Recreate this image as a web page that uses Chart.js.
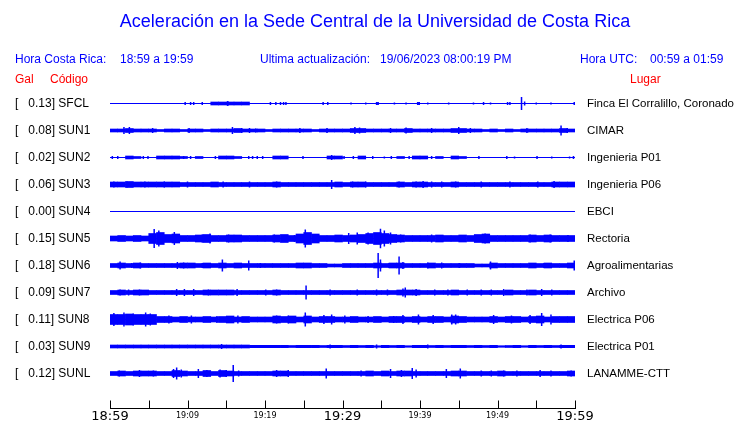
<!DOCTYPE html>
<html>
<head>
<meta charset="utf-8">
<title>Aceleración - Sede Central UCR</title>
<script src="https://cdn.jsdelivr.net/npm/chart.js@4.4.1/dist/chart.umd.min.js"></script>
<style>
  body { margin: 0; background: #fff; }
  #wrap { width: 740px; height: 423px; }
</style>
</head>
<body>
<div id="wrap"><canvas id="sismoChart" width="740" height="423"></canvas></div>
<script>
// station rows (top to bottom)
const rowCodes = ['SFCL', 'SUN1', 'SUN2', 'SUN3', 'SUN4', 'SUN5', 'SUN6', 'SUN7', 'SUN8', 'SUN9', 'SUNL'];
const rowGals = ['0.13', '0.08', '0.02', '0.06', '0.00', '0.15', '0.18', '0.09', '0.11', '0.03', '0.12'];
const rowPlaces = ['Finca El Corralillo, Coronado', 'CIMAR', 'Ingenieria P01', 'Ingenieria P06', 'EBCI',
    'Rectoria', 'Agroalimentarias', 'Archivo', 'Electrica P06', 'Electrica P01', 'LANAMME-CTT'];

// time axis, one tick every 5 minutes
const timeLabels = ['18:59', '', '19:09', '', '19:19', '', '19:29', '', '19:39', '', '19:49', '', '19:59'];
const bigLabels = ['18:59', '19:29', '19:59'];

const titleText = 'Aceleración en la Sede Central de la Universidad de Costa Rica';
const horaLocal = '18:59 a 19:59';
const ultimaAct = '19/06/2023 08:00:19 PM';
const horaUtc = '00:59 a 01:59';

// trace envelope: half amplitude per minute (0..59)
const sfclBand = [
    0, 0, 0, 0, 0, 0, 0, 0, 0, 0,
    0, 0, 0, 1.5, 1.5, 1.5, 1.5, 1.5, 0, 0,
    0, 0, 0, 0, 0, 0, 0, 0, 0, 0,
    0, 0, 0, 0, 0, 0, 0, 0, 0, 0,
    0, 0, 0, 0, 0, 0, 0, 0, 0, 0,
    0, 0, 0, 0, 0, 0, 0, 0, 0, 0];
const sun1Band = [
    1.5, 1.5, 2, 1.5, 1.5, 1.5, 1, 1.5, 1.5, 1,
    1.5, 1.5, 1, 1.5, 1.5, 1.5, 2, 1.5, 1.5, 1.5,
    1, 1.5, 1.5, 1.5, 1.5, 1.5, 1, 1.5, 1.5, 1.5,
    1.5, 2, 2, 1.5, 1.5, 1.5, 1.5, 1.5, 2, 1.5,
    1.5, 1.5, 1.5, 1.5, 2, 2, 1.5, 1.5, 1, 1.5,
    1, 1.5, 1, 1.5, 1.5, 1.5, 1.5, 1.5, 2, 1.5];
const sun2Band = [
    0, 0, 1.5, 1, 0, 0, 1.5, 1.5, 1.5, 1,
    0, 1, 0, 0, 1.5, 1.5, 1, 0, 0, 0,
    0, 1.5, 1.5, 0, 0, 0, 0, 0, 1.5, 1.5,
    0, 0, 1.5, 0, 0, 0, 0, 1, 0, 1.5,
    1.5, 0, 1, 0, 1.5, 1, 0, 0, 0, 0,
    0, 0, 0, 0, 0, 0, 0, 0, 0, 0];
const sun3Band = [
    2.5, 2.5, 3, 2.5, 2.5, 2.5, 2.5, 2.5, 2.5, 2,
    2, 2, 2, 2.5, 2, 2, 2, 2, 2, 2,
    2, 2.5, 2, 2, 2, 2, 2, 2, 2, 2.5,
    2, 2.5, 2.5, 2, 2, 2, 2, 2.5, 2, 2.5,
    2.5, 2, 2, 2, 2.5, 2, 2, 2, 2, 2,
    2, 2, 2, 2, 2, 2, 2, 2.5, 2.5, 2.5];
const sun4Band = [
    0, 0, 0, 0, 0, 0, 0, 0, 0, 0,
    0, 0, 0, 0, 0, 0, 0, 0, 0, 0,
    0, 0, 0, 0, 0, 0, 0, 0, 0, 0,
    0, 0, 0, 0, 0, 0, 0, 0, 0, 0,
    0, 0, 0, 0, 0, 0, 0, 0, 0, 0,
    0, 0, 0, 0, 0, 0, 0, 0, 0, 0];
const sun5Band = [
    2.5, 3, 2.5, 3, 2.5, 5, 6, 4, 4.5, 3,
    3, 3.5, 4, 3, 3, 3.5, 3.5, 3, 3, 3,
    3, 3.5, 4, 3, 4.5, 6, 4.5, 3, 3, 3.5,
    3, 3.5, 4, 5, 6, 5, 4, 3.5, 3, 3,
    3, 3, 3.5, 3, 3, 3.5, 3, 4, 4.5, 3,
    3, 3, 3, 3, 3.5, 3, 3.5, 3, 3, 3];
const sun6Band = [
    2, 2.5, 2, 2.5, 2, 2, 2, 2, 2, 2.5,
    2.5, 2, 2.5, 2, 2.5, 2, 2.5, 2, 2, 2,
    2, 2, 2, 2, 2.5, 2.5, 2, 2, 1.5, 1.5,
    2, 2, 2, 2, 2.5, 2, 2.5, 2.5, 2, 2,
    2, 2.5, 2, 2, 2, 2, 2, 1.5, 1.5, 2.5,
    2, 2, 2, 2, 2.5, 2, 2.5, 2, 2, 2.5];
const sun7Band = [
    2, 2.5, 2, 2.5, 2.5, 2, 2, 2, 2, 2,
    2, 2, 2.5, 2.5, 2.5, 2.5, 2, 2, 2, 2,
    2, 2.5, 2, 2, 2, 2, 2, 2, 2, 2,
    2, 2, 2, 2, 2, 2, 2, 2.5, 2.5, 2.5,
    2, 2, 2, 2, 2.5, 2, 2, 2, 2, 2,
    2, 2.5, 2, 2, 2.5, 2, 2, 2, 2, 2];
const sun8Band = [
    5, 5, 5.5, 5, 5, 5, 3, 3, 2.5, 3,
    2.5, 2.5, 3, 2.5, 3, 3.5, 2.5, 3, 2.5, 2.5,
    2.5, 3.5, 3, 3.5, 2.5, 3.5, 2.5, 3, 3, 2.5,
    2.5, 3, 2.5, 2.5, 3, 2.5, 3, 3, 2.5, 3,
    2.5, 3, 3, 2.5, 3.5, 3, 2.5, 2.5, 2.5, 3,
    2.5, 3, 3, 2.5, 3, 3.5, 2.5, 3, 3, 3];
const sun9Band = [
    1.5, 1.5, 1.5, 1.5, 1.5, 1.5, 1.5, 1.5, 1.5, 1.5,
    1.5, 1.5, 1.5, 1.5, 1.5, 1.5, 1.5, 1.5, 1.2, 1.2,
    1.2, 1.2, 1.2, 1, 1.2, 1.2, 1.2, 1, 1.2, 1.2,
    1, 1.2, 1, 1.2, 0.8, 1.2, 1, 1.2, 0.8, 1.2,
    1.2, 1, 1.2, 1, 1.2, 1.2, 1, 1.2, 1, 1.2,
    0.8, 1, 1.2, 0.8, 1.2, 1, 1.2, 1, 1.2, 1.2];
const sunlBand = [
    2, 2.5, 2, 2.5, 2.5, 2.5, 2, 2, 3, 2.5,
    2, 2, 3, 2, 3, 2.5, 2, 2, 2, 2,
    2, 2.5, 2.5, 2, 2, 2, 2, 2, 2, 2,
    2, 2, 2, 2.5, 2, 2.5, 2, 2.5, 2.5, 2,
    2, 2, 2, 2, 2.5, 2.5, 2, 2, 2, 2,
    2.5, 2, 2, 2, 2, 2, 2, 2, 2, 2.5];

// single peaks: [minute, half amplitude]
const sfclSpikes = [[9.7, 1.5], [10.4, 1.5], [10.8, 1.5], [11.9, 1.5], [15.2, 2.5], [20.7, 1.5], [21.4, 1.5],
    [22.0, 1.5], [22.4, 1.5], [22.7, 1.5], [27.5, 1.5], [28.1, 1.5], [31.1, 1], [33.0, 1], [34.4, 1.5],
    [34.6, 1.5], [36.7, 1], [38.2, 1], [39.7, 1.5], [39.9, 1.5], [41.0, 1], [43.7, 1], [46.9, 1], [48.2, 1.5],
    [49.1, 1], [51.3, 1.5], [51.6, 1.5], [53.1, 6.5], [53.5, 2], [55.0, 1], [56.9, 1], [59.9, 1.5]];
const sun1Spikes = [[1.8, 3.5], [2.5, 3.5], [5.5, 2.5], [10.2, 2.5], [15.8, 3.5], [17.0, 2.5], [18.0, 2.5],
    [18.8, 2], [24.5, 2.5], [28.0, 2.5], [31.6, 3.5], [32.2, 3], [36.2, 2.5], [38.2, 3], [41.5, 2.5],
    [45.0, 3.5], [46.5, 2.5], [53.8, 2.5], [58.2, 5], [59.0, 2.5]];
const sun2Spikes = [[0.3, 1.5], [1.0, 1.5], [4.3, 1.5], [4.9, 1.5], [9.5, 1.5], [10.4, 1.5], [13.6, 1.5],
    [17.9, 1.5], [18.4, 1.5], [19.0, 1.5], [19.7, 1.5], [24.9, 1.5], [28.6, 2.5], [30.2, 1.5], [31.4, 1.5],
    [33.9, 1.5], [35.4, 1], [36.3, 1.5], [38.6, 1.5], [41.5, 1.5], [47.6, 1.5], [51.2, 1.5], [52.2, 1],
    [55.1, 1.5], [57.0, 1], [59.3, 1], [59.8, 1.5]];
const sun3Spikes = [[0.5, 3], [2.2, 3], [4.5, 3], [7.0, 3], [10.0, 3], [14.6, 3], [18.0, 3], [21.5, 3],
    [28.6, 4.5], [31.3, 3], [33.0, 3], [37.3, 3], [39.5, 3], [40.4, 3.5], [41.5, 3], [42.8, 3], [44.6, 3],
    [47.9, 3], [51.6, 3], [55.2, 3], [57.3, 3.5]];
const sun4Spikes = [];
const sun5Spikes = [[5.7, 9.5], [6.3, 8], [8.3, 6.5], [11.9, 4], [12.9, 5], [15.3, 4], [21.2, 4], [23.8, 3.5],
    [25.2, 9], [26.3, 4.5], [30.8, 5.5], [31.9, 6], [33.3, 6], [34.9, 9.7], [35.4, 8], [36.2, 6], [37.5, 4],
    [41.5, 4], [42.9, 3.5], [45.8, 3.5], [48.4, 5], [54.2, 4], [56.8, 4], [59.1, 3.5]];
const sun6Spikes = [[1.3, 4], [2.8, 2.5], [3.9, 3], [8.7, 3.5], [9.5, 3], [11.9, 2.5], [14.5, 6], [16.4, 2.5],
    [17.9, 5], [19.4, 2.5], [34.6, 12.5], [34.9, 6], [36.0, 2.5], [37.3, 9], [37.8, 3.5], [41.0, 3], [42.8, 3],
    [45.1, 2.5], [49.1, 4], [54.4, 2.5], [56.0, 2.5], [59.9, 5]];
const sun7Spikes = [[1.3, 3], [2.4, 3], [3.8, 3], [8.6, 3.5], [9.6, 3.5], [10.8, 3.5], [12.7, 3], [16.4, 3.5],
    [20.1, 3], [21.5, 3], [25.3, 7], [28.4, 3], [31.9, 3], [34.4, 3], [35.8, 3], [37.8, 4], [38.1, 5],
    [39.5, 3.5], [41.9, 3], [43.6, 3], [46.1, 3], [47.9, 3], [49.2, 3], [50.8, 3.5], [53.8, 3], [55.7, 3.5],
    [57.0, 3]];
const sun8Spikes = [[0.5, 6.5], [1.8, 7], [3.0, 6], [4.6, 7], [5.2, 6], [7.6, 4], [10.5, 4], [13.8, 3.5],
    [16.5, 4], [21.5, 4], [23.0, 4], [25.2, 7], [27.6, 4.5], [28.6, 5], [30.3, 4], [33.3, 3.5], [36.6, 3.5],
    [37.8, 4.5], [39.8, 5], [41.7, 4.5], [44.1, 5], [44.6, 5], [49.5, 4.5], [51.8, 4], [54.2, 4.5],
    [55.7, 6.5], [56.9, 5]];
const sun9Spikes = [[14.4, 2.5], [28.4, 2], [34.4, 2], [41.0, 2], [58.2, 2]];
const sunlSpikes = [[1.2, 3], [3.8, 3.5], [5.6, 3], [8.2, 4.5], [8.6, 6], [9.2, 4], [11.4, 4.5], [12.5, 3.5],
    [14.2, 4], [15.0, 3.5], [15.9, 8.5], [16.6, 3], [21.5, 3.5], [23.0, 3.5], [27.9, 5], [32.4, 3], [36.2, 4.5],
    [37.6, 3.5], [39.0, 5.5], [39.5, 4], [43.4, 4.5], [45.2, 5], [47.9, 3], [49.2, 3], [50.8, 3], [52.5, 3],
    [55.5, 3.5], [56.9, 3], [59.5, 3]];

const traceBands = [sfclBand, sun1Band, sun2Band, sun3Band, sun4Band, sun5Band, sun6Band, sun7Band, sun8Band, sun9Band, sunlBand];
const traceSpikes = [sfclSpikes, sun1Spikes, sun2Spikes, sun3Spikes, sun4Spikes, sun5Spikes, sun6Spikes, sun7Spikes, sun8Spikes, sun9Spikes, sunlSpikes];

const BLUE = '#0000ff';
const RED = '#ff0000';
const TRACE_GAP = 27;

Chart.defaults.font.family = "'Liberation Sans', Arial, sans-serif";

function buildDatasets() {
    const sets = [];
    traceBands.forEach(function(band, i) {
        const off = i * TRACE_GAP;
        const bars = [];
        band.forEach(function(a, m) {
            if (a > 0) bars.push({ x: m + 0.5, y: [off - a, off + a] });
        });
        sets.push({
            type: 'bar', data: bars, backgroundColor: BLUE, borderWidth: 0,
            grouped: false, barPercentage: 1, categoryPercentage: 1
        });
        sets.push({
            type: 'line', data: [{ x: 0, y: off }, { x: 60, y: off }],
            borderColor: BLUE, borderWidth: 1, pointRadius: 0
        });
        const pts = [];
        traceSpikes[i].forEach(function(s) {
            pts.push({ x: s[0], y: off - s[1] }, { x: s[0], y: off + s[1] }, { x: s[0], y: null });
        });
        sets.push({
            type: 'line', data: pts, borderColor: BLUE, borderWidth: 1.5,
            pointRadius: 0, spanGaps: false
        });
    });
    return sets;
}

// header texts
const headerPlugin = {
    id: 'header',
    afterDraw(chart) {
        const ctx = chart.ctx;
        ctx.save();
        ctx.textBaseline = 'middle';
        ctx.fillStyle = BLUE;
        ctx.textAlign = 'center';
        ctx.font = "18px 'Liberation Sans', Arial, sans-serif";
        ctx.fillText(titleText, 375, 22);
        ctx.textAlign = 'left';
        ctx.font = "12px 'Liberation Sans', Arial, sans-serif";
        ctx.fillText('Hora Costa Rica:', 15, 60);
        ctx.fillText(horaLocal, 120, 60);
        ctx.fillText('Ultima actualización:', 260, 60);
        ctx.fillText(ultimaAct, 380, 60);
        ctx.fillText('Hora UTC:', 580, 60);
        ctx.fillText(horaUtc, 650, 60);
        ctx.fillStyle = RED;
        ctx.fillText('Gal', 15, 80);
        ctx.fillText('Código', 50, 80);
        ctx.fillText('Lugar', 630, 80);
        ctx.restore();
    }
};

// time axis line with upward tick marks
const timeAxisPlugin = {
    id: 'timeAxis',
    afterDraw(chart) {
        const ctx = chart.ctx;
        const xs = chart.scales.x;
        const yy = Math.round(chart.chartArea.bottom) - 0.5;
        ctx.save();
        ctx.strokeStyle = '#000';
        ctx.lineWidth = 1;
        ctx.beginPath();
        ctx.moveTo(Math.round(xs.getPixelForValue(0)), yy);
        ctx.lineTo(Math.round(xs.getPixelForValue(60)) + 1, yy);
        xs.ticks.forEach(function(t) {
            const px = Math.round(xs.getPixelForValue(t.value)) + 0.5;
            ctx.moveTo(px, yy);
            ctx.lineTo(px, yy - 8);
        });
        ctx.stroke();
        ctx.restore();
    }
};

function tickFont(ctx) {
    const lbl = timeLabels[ctx.index];
    if (bigLabels.indexOf(lbl) >= 0) {
        return { family: "'DejaVu Sans', sans-serif", size: 13, lineHeight: 1.1 };
    }
    return { family: "'DejaVu Sans', sans-serif", size: 8, lineHeight: 1.7 };
}

function rowTicks(scale) {
    scale.ticks = rowCodes.map(function(c, i) { return { value: i * TRACE_GAP }; });
}

const chart = new Chart(document.getElementById('sismoChart'), {
    type: 'bar',
    data: { datasets: buildDatasets() },
    options: {
        responsive: false,
        animation: false,
        events: [],
        layout: { padding: { left: 15, top: 90, right: 0, bottom: 0 } },
        plugins: { legend: { display: false }, tooltip: { enabled: false } },
        scales: {
            x: {
                type: 'linear', min: 0, max: 60, offset: false,
                grid: { display: false }, border: { display: false },
                ticks: {
                    stepSize: 5, autoSkip: false, maxRotation: 0, padding: -8, color: '#000',
                    font: tickFont,
                    callback: function(v, i) { return timeLabels[i]; }
                },
                afterFit: function(s) { s.height = 14; }
            },
            y: {
                type: 'linear', position: 'left', reverse: true,
                min: -13.5, max: 10 * TRACE_GAP + 35.5,
                grid: { display: false }, border: { display: false },
                afterBuildTicks: rowTicks,
                ticks: {
                    autoSkip: false, crossAlign: 'far', padding: 0, color: '#000',
                    font: { size: 12 },
                    callback: function(v, i) { return '[   ' + rowGals[i] + '] ' + rowCodes[i]; }
                },
                afterFit: function(s) { s.width = 95; }
            },
            y2: {
                type: 'linear', position: 'right', reverse: true,
                min: -13.5, max: 10 * TRACE_GAP + 35.5,
                grid: { display: false }, border: { display: false },
                afterBuildTicks: rowTicks,
                ticks: {
                    autoSkip: false, crossAlign: 'near', padding: 4, color: '#000',
                    font: { size: 11.5 },
                    callback: function(v, i) { return rowPlaces[i]; }
                },
                afterFit: function(s) { s.width = 165; }
            }
        }
    },
    plugins: [headerPlugin, timeAxisPlugin]
});
</script>
</body>
</html>
